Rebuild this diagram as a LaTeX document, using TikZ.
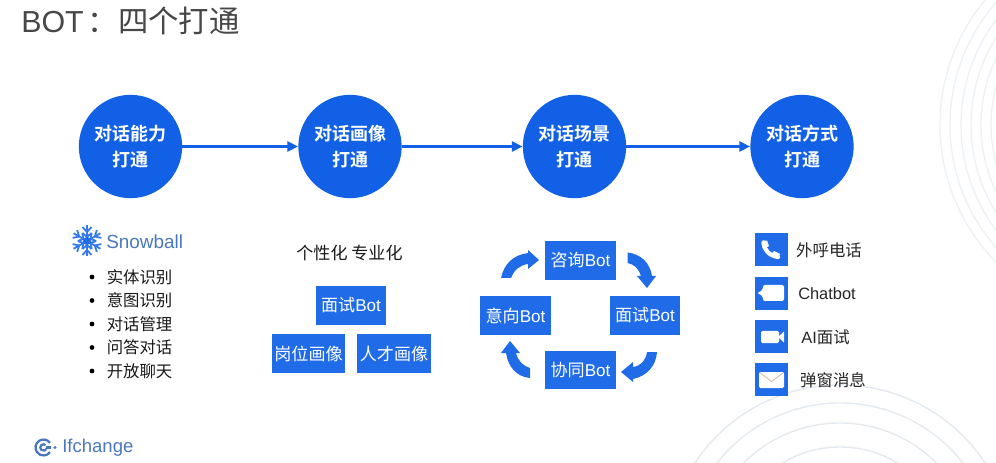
\documentclass[tikz,border=0pt]{standalone}
\usepackage{fontspec}
\setmainfont{Liberation Sans}
\newfontfamily\cjk{Noto Sans CJK SC}
\newfontfamily\cjkb{Noto Sans CJK SC Bold}
\usetikzlibrary{arrows.meta}
\definecolor{mainblue}{HTML}{1F6BE8}
\definecolor{circleblue}{HTML}{1160E6}
\definecolor{logoblue}{HTML}{4A78BE}
\definecolor{ringa}{HTML}{EDF1F6}
\definecolor{ringb}{HTML}{E4E9EF}
\tikzset{
 x=0.75pt,y=-0.75pt,
 bigc/.style={circle,fill=circleblue,minimum size=77.5pt,inner sep=0,align=center,text=white,font=\cjkb\fontsize{13.5}{19.5}\selectfont},
 flow/.style={draw=circleblue,line width=2.1pt,-{Triangle[length=8pt,width=7.5pt]}},
 bluebox/.style={fill=mainblue,text=white,inner sep=0,font=\cjk\fontsize{12.8}{14}\selectfont,minimum height=29pt},
 wide/.style={bluebox,minimum width=55pt},
 cyc/.style={bluebox,minimum width=53pt},
 iconbox/.style={fill=mainblue,minimum size=24.8pt,inner sep=0},
 lab/.style={inner sep=0,text=black!85,font=\cjk\fontsize{12.3}{14}\selectfont},
 item/.style={inner sep=0,anchor=west,text=black!90,font=\cjk\fontsize{12.3}{14}\selectfont},
 dotm/.style={circle,fill=black,minimum size=3.6pt,inner sep=0},
 ring/.style={line width=1pt},
 band/.style={fill=mainblue,draw=none},
 flake/.style={draw=mainblue!90,line width=1.35pt},
 icn/.style={fill=white,draw=none},
}
\begin{document}
\begin{tikzpicture}
\useasboundingbox (0,0) rectangle (996,463);
\fill[white] (0,0) rectangle (996,463);
\begin{scope}
\clip (0,0) rectangle (996,463);
\foreach \r in {196,186,175,165,155,145,135} \draw[ring,color=ringa] (1136,125) circle[radius=\r];
\foreach \r in {174,156,136,112,90} \draw[ring,color=ringb] (840,559) circle[radius=\r];
\end{scope}

\node[anchor=west,inner sep=0,text=black!72,font=\fontsize{22.8}{25}\selectfont] (title) at (21,21) {BOT\kern3pt{\cjk：四个打通}};

\node[bigc] (c1) at (130.5,146.5) {对话能力\\打通};
\node[bigc] (c2) at (350,146.5) {对话画像\\打通};
\node[bigc] (c3) at (574.5,146.5) {对话场景\\打通};
\node[bigc] (c4) at (802,146.5) {对话方式\\打通};
\draw[flow] (c1) -- (c2);
\draw[flow] (c2) -- (c3);
\draw[flow] (c3) -- (c4);

% Snowball
\coordinate (fl) at (87,241);
\foreach \a in {30,90,150,210,270,330}{
 \begin{scope}[shift={(fl)},rotate=\a]
  \draw[flake] (0,0) -- (15.5,0);
  \draw[flake] (4,0) -- (8,4.5) (4,0) -- (8,-4.5);
  \draw[flake] (9,0) -- (14,4.5) (9,0) -- (14,-4.5);
 \end{scope}
}
\fill[mainblue] (fl) circle[radius=4];
\node[anchor=west,inner sep=0,text=logoblue,font=\fontsize{14.2}{16}\selectfont] (snow) at (106,241.5) {Snowball};
\foreach \n/\y/\t in {a/277/实体识别,b/300.5/意图识别,c/324/对话管理,d/347.5/问答对话,e/371/开放聊天}{
 \node[dotm] (dot\n) at (92,\y) {};
 \node[item] (it\n) at (106.5,\y) {\t};
}

% Ifchange
\coordinate (lg) at (43.5,447.5);
\begin{scope}[shift={(lg)},x=0.75pt,y=0.75pt]
\draw[logoblue,line width=1.7pt] (35:8) arc[start angle=35,end angle=325,radius=8];
\draw[logoblue,line width=1.7pt] (50:3.2) arc[start angle=50,end angle=330,radius=3.2];
\draw[logoblue,line width=1.7pt] (2,0) -- (7,0);
\fill[logoblue] (11.5,0) circle[radius=1.7];
\end{scope}
\node[anchor=west,inner sep=0,text=logoblue,font=\fontsize{13.9}{16}\selectfont] (ifc) at (62,448) {Ifchange};

% column 2
\node[inner sep=0,text=black!90,font=\cjk\fontsize{12.8}{14}\selectfont] (tt2) at (349.5,253) {个性化 专业化};
\node[wide,minimum width=52.5pt] (g1) at (351,305.5) {面试{\fontspec{Liberation Sans}Bot}};
\node[wide] (g2) at (308.5,353.5) {岗位画像};
\node[wide] (g3) at (394,353.5) {人才画像};

% column 3
\node[cyc] (b1) at (580.5,260.5) {咨询{\fontspec{Liberation Sans}Bot}};
\node[cyc] (b2) at (645,315.5) {面试{\fontspec{Liberation Sans}Bot}};
\node[cyc] (b3) at (580.5,370) {协同{\fontspec{Liberation Sans}Bot}};
\node[cyc] (b4) at (515.5,315.5) {意向{\fontspec{Liberation Sans}Bot}};
% curved block arrows
\fill[band] (627.5,252.5) .. controls (641,254) and (650,263) .. (652,276) -- (656,276) -- (647,288) -- (637,276) -- (641,276) .. controls (639,269) and (634,264) .. (627.5,263) -- cycle;
\fill[band] (657,352) .. controls (656,366) and (647,376) .. (633,379) -- (633,382) -- (621,372) -- (633,362) -- (633,367) .. controls (641,366) and (646,360) .. (647,352) -- cycle;
\fill[band] (530,378) .. controls (517,377) and (508,367) .. (506,353) -- (501,353) -- (510,341) -- (520,353) -- (516,353) .. controls (518,361) and (523,366) .. (530,368) -- cycle;
\fill[band] (501,278) .. controls (504,264) and (513,255) .. (528,253) -- (528,250) -- (539,260) -- (528,269) -- (528,264) .. controls (520,265) and (514,270) .. (511,278) -- cycle;

% column 4
\node[iconbox] (i1) at (771.5,249.5) {};
\node[iconbox] (i2) at (771.5,293.5) {};
\node[iconbox] (i3) at (771.5,336.5) {};
\node[iconbox] (i4) at (771.5,379.5) {};
\draw[white,line width=3.2pt,line cap=round] (763.5,242.5) .. controls (764,250) and (769,255.5) .. (778,257);
\fill[white] (762,241) -- (767,240.5) -- (769,246) -- (765,248) -- cycle;
\fill[white] (771,254) -- (774,251) -- (780,254) -- (778,258.5) -- cycle;
\fill[icn,rounded corners=1.5pt] (763,285) -- (784,285) -- (784,301) -- (763,301) -- (763,296) -- (757,293) -- (763,290) -- cycle;
\fill[icn,rounded corners=1pt] (761,331) rectangle (779,343);
\fill[icn] (778,337) -- (784,331.5) -- (784,342.5) -- cycle;
\fill[icn,rounded corners=1pt] (759,372) rectangle (784,388);
\draw[orange!40!gray!55,line width=.6pt] (759.5,372.5) -- (771.5,381.5) -- (783.5,372.5);
\node[lab] (l1) at (829,250) {外呼电话};
\node[lab,font=\fontsize{12.3}{14}\selectfont] (l2) at (827,293.5) {Chatbot};
\node[lab] (l3) at (825.5,337) {{\fontspec{Liberation Sans}AI}面试};
\node[lab] (l4) at (833,380.5) {弹窗消息};
\end{tikzpicture}
\end{document}
